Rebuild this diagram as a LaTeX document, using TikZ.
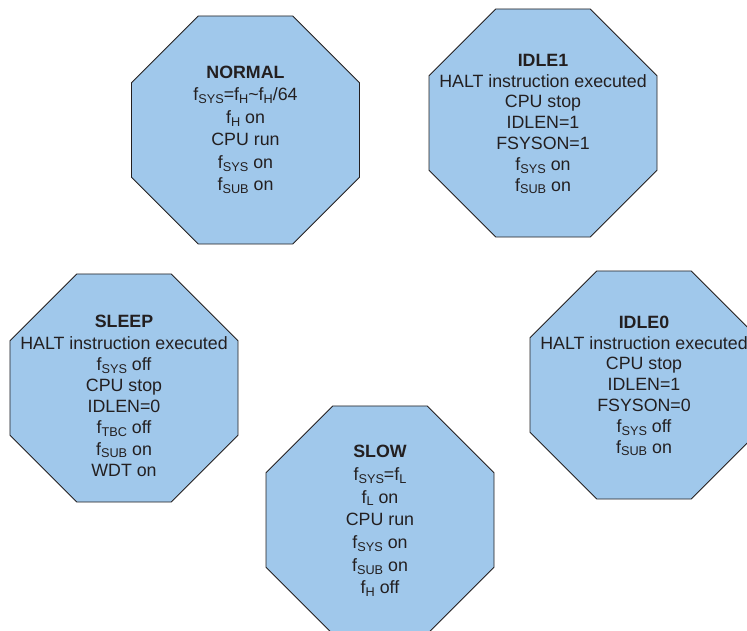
\documentclass[tikz,border=0pt]{standalone}
\usepackage{fontspec}
\setmainfont{Liberation Sans}
\usetikzlibrary{shapes.geometric}
\definecolor{octfill}{RGB}{160,200,235}
\definecolor{octtext}{RGB}{35,31,32}
\newcommand\lo[1]{\raisebox{-0.3ex}{\fontsize{12.7}{12.7}\selectfont #1}}
\tikzset{
  oct/.style={regular polygon, regular polygon sides=8, minimum size=246.8pt,
    inner sep=0pt, outer sep=0pt, draw=octtext, line width=0.9pt, fill=octfill},
  txt/.style={align=center, text=octtext, inner sep=0pt},
  sp/.style={font=\fontsize{17.8}{#1}\selectfont}
}
\begin{document}
\begin{tikzpicture}[x=1pt,y=-1pt]
\useasboundingbox (0,0) rectangle (747,631);
\clip (0,0) rectangle (747,631);
\node[oct] (normal) at (245.5,130) {};
\node[oct] (idle1) at (543,123) {};
\node[oct] (sleep) at (124,388) {};
\node[oct] (slow) at (380,520) {};
\node[oct] (idle0) at (644,385) {};

\node[txt, sp=22.5] (normalt) at (245.5,130) {\textbf{NORMAL}\\
  f\lo{SYS}=f\lo{H}\textasciitilde f\lo{H}/64\\ f\lo{H} on\\ CPU run\\ f\lo{SYS} on\\ f\lo{SUB} on};
\node[txt, sp=20.8] (idle1t) at (543,124) {\textbf{IDLE1}\\
  HALT instruction executed\\ CPU stop\\ IDLEN=1\\ FSYSON=1\\ f\lo{SYS} on\\ f\lo{SUB} on};
\node[txt, sp=21.2] (sleept) at (124,396) {\textbf{SLEEP}\\
  HALT instruction executed\\ f\lo{SYS} off\\ CPU stop\\ IDLEN=0\\ f\lo{TBC} off\\ f\lo{SUB} on\\ WDT on};
\node[txt, sp=22.7] (slowt) at (380,521) {\textbf{SLOW}\\
  f\lo{SYS}=f\lo{L}\\ f\lo{L} on\\ CPU run\\ f\lo{SYS} on\\ f\lo{SUB} on\\ f\lo{H} off};
\node[txt, sp=20.8] (idle0t) at (644,386) {\textbf{IDLE0}\\
  HALT instruction executed\\ CPU stop\\ IDLEN=1\\ FSYSON=0\\ f\lo{SYS} off\\ f\lo{SUB} on};
\end{tikzpicture}
\end{document}
